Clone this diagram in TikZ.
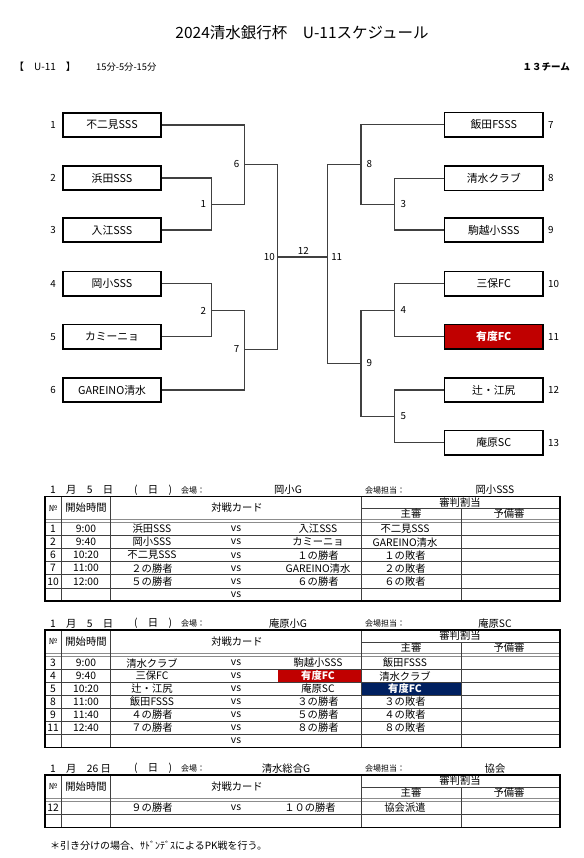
\documentclass[tikz,border=0pt]{standalone}
\usepackage{fontspec}
\setmainfont{Noto Sans CJK JP}
\definecolor{ured}{HTML}{C00000}
\definecolor{unavy}{HTML}{002060}
\newcommand\fs[1]{\fontsize{#1}{#1}\selectfont}
\newcommand\mrow[8]{%
 \node[tt] (#1no) at (53,#2) {#3};
 \node[tt] (#1tm) at (86,#2) {#4};
 \node[tt] (#1a) at (152,#2) {#5};
 \node[tt] (#1vs) at (236,#2) {#6};
 \node[tt] (#1b) at (318,#2) {#7};
 \node[tt] (#1r) at (405,#2) {#8};
}
\newcommand\mtab[5]{%
 \draw[tline] (361,#2) -- (560,#2);
 \draw[dline] (45,#3) -- (560,#3) (45,#4) -- (560,#4);
 \draw[tline] (61.5,#1) -- (61.5,#5) (110,#1) -- (110,#5) (361,#1) -- (361,#5) (461,#2) -- (461,#5);
}
\newcommand\mhead[4]{% prefix, center y, judge y, sub y
 \node[tt] (#1hno) at (53,#2) {\fs{8.5}№};
 \node[tt] (#1htm) at (86,#2) {開始時間};
 \node[tt] (#1hcard) at (237,#2) {対戦カード};
 \node[tt] (#1hjud) at (460,#3) {審判割当};
 \node[tt] (#1hmain) at (411,#4) {主審};
 \node[tt] (#1hsub) at (509,#4) {予備審};
}
\newcommand\mline[6]{% prefix, y, date, venue, staff
 \node[tt,anchor=west] (#1date) at (50,#2) {#3};
 \node[tt,anchor=west] (#1dow) at (134,#2) {(　日　)};
 \node[small,anchor=west] (#1vl) at (181,#2) {会場：};
 \node[tt] (#1venue) at (#6,#2) {#4};
 \node[small,anchor=west] (#1sl) at (365,#2) {会場担当：};
 \node[tt] (#1staff) at (495,#2) {#5};
}
\begin{document}
\begin{tikzpicture}[x=1pt,y=-1pt,
  tt/.style={inner sep=0pt, font=\fs{10.3}},
  small/.style={inner sep=0pt, font=\fs{8}},
  num/.style={inner sep=0pt, font=\fs{9.8}},
  teambox/.style={draw=black, line width=1.8pt, minimum width=98.5pt, minimum height=24.5pt, inner sep=0pt, font=\fs{10.8}},
  br/.style={draw=black!75, line width=1.1pt},
  tline/.style={draw=black!75, line width=0.8pt},
  dline/.style={draw=black!45, line width=0.8pt},
  outer/.style={draw=black, line width=1.8pt}]
\useasboundingbox (0,0) rectangle (583,858);
\fill[white] (0,0) rectangle (583,858);

% header
\node[inner sep=0pt, font=\fs{15.5}] (title) at (302,33) {2024清水銀行杯　U-11スケジュール};
\node[inner sep=0pt, font=\fs{10}, anchor=west] (cat) at (14,67) {【　U-11　】};
\node[inner sep=0pt, font=\fs{9.3}, anchor=west] (fmt) at (96,67) {15分-5分-15分};
\node[inner sep=0pt, font=\bfseries\fs{9.5}, anchor=east] (teams) at (570,67) {１３チーム};

% left teams
\node[teambox] (t1) at (112,125) {不二見SSS};
\node[teambox] (t2) at (112,178) {浜田SSS};
\node[teambox] (t3) at (112,230) {入江SSS};
\node[teambox] (t4) at (112,283.7) {岡小SSS};
\node[teambox] (t5) at (112,336.7) {カミーニョ};
\node[teambox] (t6) at (112,390) {GAREINO清水};
% right teams
\node[teambox] (t7) at (493.8,124.8) {飯田FSSS};
\node[teambox] (t8) at (493.8,178.3) {清水クラブ};
\node[teambox] (t9) at (493.8,230) {駒越小SSS};
\node[teambox] (t10) at (493.8,283.7) {三保FC};
\node[teambox, fill=ured, text=white, font=\bfseries\fs{10.8}] (t11) at (493.8,336.7) {有度FC};
\node[teambox] (t12) at (493.8,390) {辻・江尻};
\node[teambox] (t13) at (493.8,442.7) {庵原SC};

% team numbers
\foreach \n/\y in {1/125,2/178,3/230,4/283.7,5/336.7,6/390}
  \node[num] (n\n) at (53,\y) {\n};
\foreach \n/\y in {7/124.8,8/178.3,9/230,10/283.7,11/336.7,12/390,13/442.7}
  \node[num, anchor=west] (n\n) at (548,\y) {\n};

% junctions
\coordinate (j1) at (211.7,204.5);
\coordinate (j2) at (211.7,310.5);
\coordinate (j6) at (244.3,164.5);
\coordinate (j7) at (244.3,349.5);
\coordinate (j10) at (277.7,257);
\coordinate (j3) at (394.3,204.3);
\coordinate (j4) at (394.3,310.5);
\coordinate (j5) at (394.3,416.3);
\coordinate (j8) at (361,164.5);
\coordinate (j9) at (361,363.4);
\coordinate (j11) at (327.7,257);

\draw[br] (t2.east) -| (j1) |- (t3.east);
\draw[br] (t1.east) -| (j6) |- (j1);
\draw[br] (t4.east) -| (j2) |- (t5.east);
\draw[br] (j2) -| (j7) |- (t6.east);
\draw[br] (j6) -| (j10) |- (j7);
\draw[br] (j10) -- (j11);
\draw[br] (t8.west) -| (j3) |- (t9.west);
\draw[br] (t7.west) -| (j8) |- (j3);
\draw[br] (t10.west) -| (j4) |- (t11.west);
\draw[br] (t12.west) -| (j5) |- (t13.west);
\draw[br] (j4) -| (j9) |- (j5);
\draw[br] (j8) -| (j11) |- (j9);

% match labels
\node[num] (m1) at (203.3,204.5) {1};
\node[num] (m2) at (203.3,310.5) {2};
\node[num] (m6) at (236.7,164.5) {6};
\node[num] (m7) at (236.7,349.5) {7};
\node[num] (m10) at (269.3,257) {10};
\node[num] (m12) at (303.3,251) {12};
\node[num] (m11) at (336.7,257) {11};
\node[num] (m8) at (369.3,164.5) {8};
\node[num] (m3) at (403.3,204.3) {3};
\node[num] (m4) at (403.3,310.5) {4};
\node[num] (m5) at (403.3,416.3) {5};
\node[num] (m9) at (369.3,363.4) {9};

% ===== table 1 =====
\mline{A}{490}{1　月　5　日}{岡小G}{岡小SSS}{288}
\mtab{496.5}{508.5}{519.5}{522.5}{601}
\foreach \yy in {535.6,548.7,561.8,574.8,587.9} \draw[tline] (45,\yy) -- (560,\yy);
\draw[outer] (45,496.5) rectangle (560,601);
\mhead{A}{508}{502.5}{514}
\mrow{Aa}{529.0}{1}{9:00}{浜田SSS}{vs}{入江SSS}{不二見SSS}
\mrow{Ab}{542.1}{2}{9:40}{岡小SSS}{vs}{カミーニョ}{GAREINO清水}
\mrow{Ac}{555.2}{6}{10:20}{不二見SSS}{vs}{１の勝者}{１の敗者}
\mrow{Ad}{568.3}{7}{11:00}{２の勝者}{vs}{GAREINO清水}{２の敗者}
\mrow{Ae}{581.4}{10}{12:00}{５の勝者}{vs}{６の勝者}{６の敗者}
\node[tt] (Afvs) at (236,594.5) {vs};

% ===== table 2 =====
\mline{B}{623.5}{1　月　5　日}{庵原小G}{庵原SC}{288}
\fill[ured] (278,669.5) rectangle (361,682.5);
\fill[unavy] (361,682.5) rectangle (461,695.5);
\mtab{630}{642}{653.5}{656.5}{747.5}
\foreach \yy in {669.5,682.5,695.5,708.5,721.5,734.5} \draw[tline] (45,\yy) -- (560,\yy);
\draw[outer] (45,630) rectangle (560,747.5);
\mhead{B}{641.7}{636}{648}
\mrow{Ba}{663}{3}{9:00}{清水クラブ}{vs}{駒越小SSS}{飯田FSSS}
\mrow{Bb}{676}{4}{9:40}{三保FC}{vs}{\textcolor{white}{\bfseries 有度FC}}{清水クラブ}
\mrow{Bc}{689}{5}{10:20}{辻・江尻}{vs}{庵原SC}{\textcolor{white}{\bfseries 有度FC}}
\mrow{Bd}{702}{8}{11:00}{飯田FSSS}{vs}{３の勝者}{３の敗者}
\mrow{Be}{715}{9}{11:40}{４の勝者}{vs}{５の勝者}{４の敗者}
\mrow{Bf}{728}{11}{12:40}{７の勝者}{vs}{８の勝者}{８の敗者}
\node[tt] (Bgvs) at (236,741) {vs};

% ===== table 3 =====
\mline{C}{768.5}{1　月　26 日}{清水総合G}{協会}{286}
\mtab{775}{787}{798.5}{801.5}{827.5}
\draw[tline] (45,814.5) -- (560,814.5);
\draw[outer] (45,775) rectangle (560,827.5);
\mhead{C}{786.7}{781}{793}
\node[tt] (Cano) at (53,808) {12};
\node[tt] (Caa) at (152,808) {９の勝者};
\node[tt] (Cavs) at (236,808) {vs};
\node[tt] (Cab) at (310,808) {１０の勝者};
\node[tt] (Car) at (405,808) {協会派遣};

% footer
\node[inner sep=0pt, font=\fs{10}, anchor=west] (note) at (50,846) {＊引き分けの場合、ｻﾄﾞﾝﾃﾞｽによるPK戦を行う。};
\end{tikzpicture}
\end{document}
